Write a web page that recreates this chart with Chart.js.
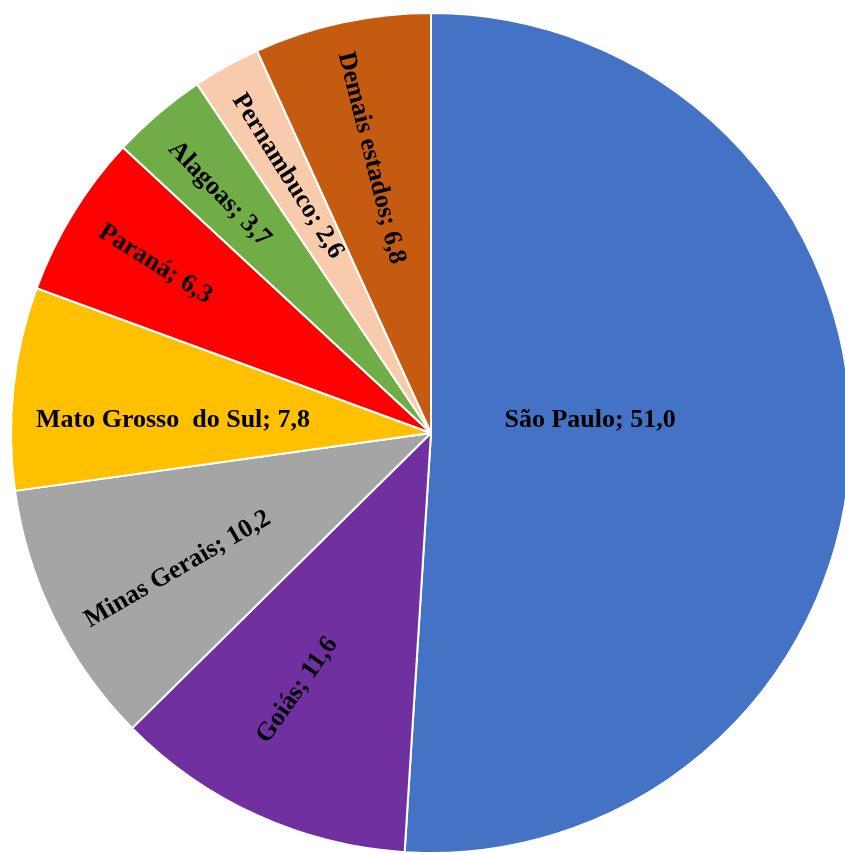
<!DOCTYPE html>
<html>
<head>
<meta charset="utf-8">
<script src="https://cdn.jsdelivr.net/npm/chart.js@4.4.1/dist/chart.umd.min.js"></script>
<style>
  html, body { margin: 0; padding: 0; background: #ffffff; overflow: hidden; }
  #wrap { position: absolute; left: 0; top: 0; width: 862px; height: 866px; }
  canvas { display: block; }
</style>
</head>
<body>
<div id="wrap"><canvas id="c" width="862" height="866"></canvas></div>
<script>
// Data
const categories = ["São Paulo", "Goiás", "Minas Gerais", "Mato Grosso  do Sul", "Paraná", "Alagoas", "Pernambuco", "Demais estados"];
const shares = [51.0, 11.6, 10.2, 7.8, 6.3, 3.7, 2.6, 6.8];
const sliceColors = ["#4472C4", "#7030A0", "#A5A5A5", "#FFC000", "#FF0000", "#70AD47", "#F8CBAD", "#C55A11"];

// Label styling (rotation in degrees, radial position as fraction of radius, angle tweak in degrees)
const labelRotation = [0, -55, -30, 0, 32, 46, 58, 76];
const labelRadius = [0.38, 0.69, 0.685, 0.615, 0.77, 0.76, 0.70, 0.67];
const labelAngleShift = [-6.4, 3, -2, -3.4, 0, -1, 0, 0];

const sliceLabels = {
  id: 'sliceLabels',
  afterDatasetsDraw(chart) {
    const ctx = chart.ctx;
    const meta = chart.getDatasetMeta(0);
    ctx.save();
    ctx.font = 'bold 26px "Liberation Serif", "Times New Roman", serif';
    ctx.fillStyle = '#000000';
    ctx.textAlign = 'center';
    ctx.textBaseline = 'middle';
    meta.data.forEach((arc, i) => {
      const p = arc.getProps(['x', 'y', 'startAngle', 'endAngle', 'outerRadius'], true);
      const mid = (p.startAngle + p.endAngle) / 2 + labelAngleShift[i] * Math.PI / 180;
      const r = p.outerRadius * labelRadius[i];
      const px = p.x + Math.cos(mid) * r;
      const py = p.y + Math.sin(mid) * r;
      const txt = categories[i] + '; ' + shares[i].toFixed(1).replace('.', ',');
      ctx.save();
      ctx.translate(px, py);
      ctx.rotate(labelRotation[i] * Math.PI / 180);
      ctx.fillText(txt, 0, 0);
      ctx.restore();
    });
    ctx.restore();
  }
};

new Chart(document.getElementById('c'), {
  type: 'pie',
  data: {
    labels: categories,
    datasets: [{
      data: shares,
      backgroundColor: sliceColors,
      borderColor: '#ffffff',
      borderWidth: 2
    }]
  },
  options: {
    responsive: false,
    animation: false,
    layout: { padding: { left: 10, right: 10, top: 12, bottom: 12 } },
    plugins: {
      legend: { display: false },
      tooltip: { enabled: false }
    }
  },
  plugins: [sliceLabels]
});
</script>
</body>
</html>
